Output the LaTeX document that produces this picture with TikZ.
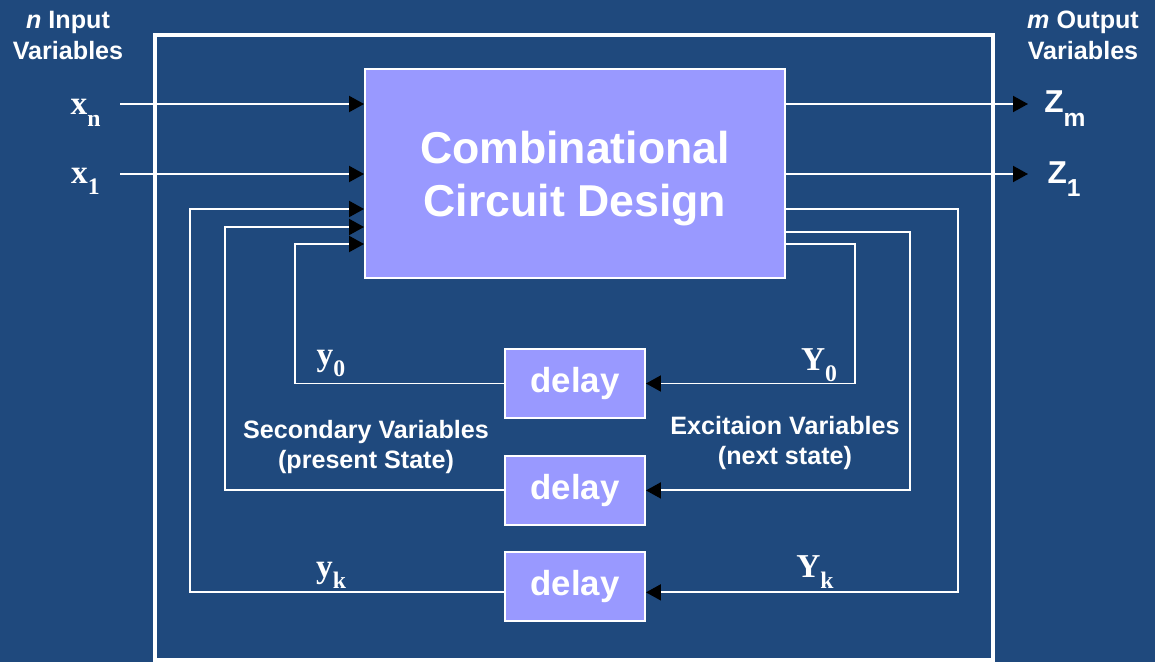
\documentclass[tikz,border=0pt]{standalone}
\usepackage{fontspec}
\setmainfont{Liberation Sans}
\newfontfamily\timesbf{Liberation Serif}
\usetikzlibrary{arrows.meta,positioning}
\definecolor{slidebg}{RGB}{31,73,125}
\definecolor{blockfill}{RGB}{153,153,255}
\newcommand{\svar}[2]{{\timesbf\bfseries\fontsize{19}{20}\selectfont #1\raisebox{-0.75ex}{\fontsize{13.5}{14}\selectfont #2}}}
\newcommand{\zvar}[2]{{\bfseries\fontsize{18}{20}\selectfont #1\raisebox{-0.8ex}{\fontsize{14}{15}\selectfont #2}}}
\begin{document}
\begin{tikzpicture}[
        sig/.style={white, line width=1.1pt},
        tip/.style={-{Triangle[length=0.3cm,width=0.32cm,color=black]}},
        block/.style={draw=white, line width=1.1pt, fill=blockfill, text=white, font=\bfseries},
        delaybox/.style={block, minimum width=2.8cm, minimum height=1.38cm, font=\bfseries\fontsize{19.8}{22}\selectfont},
        lbl/.style={text=white, font=\bfseries\fontsize{14.3}{17.6}\selectfont, align=center},
        var/.style={text=white, anchor=base, inner sep=0pt}
    ]
        \fill[slidebg] (0,0) rectangle (23.1,13.24);
        \useasboundingbox (0,0) rectangle (23.1,13.24);
        \draw[white, line width=2.2pt] (3.1,0.04) rectangle (19.86,12.54);

        \node[block, minimum width=8.4cm, minimum height=4.18cm,
              label={[text=white, align=center, yshift=-0.1cm,
                      font=\bfseries\fontsize{25.4}{30}\selectfont]center:Combinational\\Circuit Design}]
              (ccd) at (11.5,9.77) {};
        \node[delaybox] (d0) at (11.5,5.57) {delay};
        \node[delaybox, below=0.72cm of d0] (d1) {delay};
        \node[delaybox, below=0.5cm of d1] (dk) {delay};

        \node[lbl] (inlbl) at (1.36,12.53) {\textit{n} Input\\Variables};
        \node[lbl] (outlbl) at (21.66,12.53) {\textit{m} Output\\Variables};
        \node[lbl] (seclbl) at (7.32,4.3) {Secondary Variables\\(present State)};
        \node[lbl] (exclbl) at (15.7,4.38) {Excitaion Variables\\(next state)};

        \node[var] (xn) at (1.71,10.94) {\svar{x}{n}};
        \node[var] (x1) at (1.71,9.58) {\svar{x}{1}};
        \node[var] (yy0) at (6.62,5.94) {\svar{y}{0}};
        \node[var] (yyk) at (6.62,1.70) {\svar{y}{k}};
        \node[var] (Y0) at (16.38,5.84) {\svar{Y}{0}};
        \node[var] (Yk) at (16.3,1.70) {\svar{Y}{k}};
        \node[var] (zm) at (21.3,10.98) {\zvar{Z}{m}};
        \node[var] (z1) at (21.28,9.58) {\zvar{Z}{1}};

        \coordinate (inn) at (2.4,11.16);
        \coordinate (in1) at (2.4,9.76);
        \coordinate (outm) at (20.56,11.16);
        \coordinate (out1) at (20.56,9.76);
        \coordinate (dkw) at ([yshift=-0.12cm]dk.west);
        \coordinate (dke) at ([yshift=-0.12cm]dk.east);

        \draw[sig,tip] (inn) -- (ccd.west |- inn);
        \draw[sig,tip] (in1) -- (ccd.west |- in1);
        \draw[sig,tip] (ccd.east |- outm) -- (outm);
        \draw[sig,tip] (ccd.east |- out1) -- (out1);

        \draw[sig,tip] (d0.west) -| (5.9,8.36) -- (ccd.west |- 5.9,8.36);
        \draw[sig,tip] (d1.west) -| (4.5,8.7) -- (ccd.west |- 4.5,8.7);
        \draw[sig,tip] (dkw) -| (3.8,9.06) -- (ccd.west |- 3.8,9.06);

        \draw[sig,tip] (ccd.east |- 0,8.36) -| (17.1,0 |- d0.east) -- (d0.east);
        \draw[sig,tip] (ccd.east |- 0,8.6) -| (18.2,0 |- d1.east) -- (d1.east);
        \draw[sig,tip] (ccd.east |- 0,9.06) -| (19.16,0 |- dke) -- (dke);
    \end{tikzpicture}
\end{document}
